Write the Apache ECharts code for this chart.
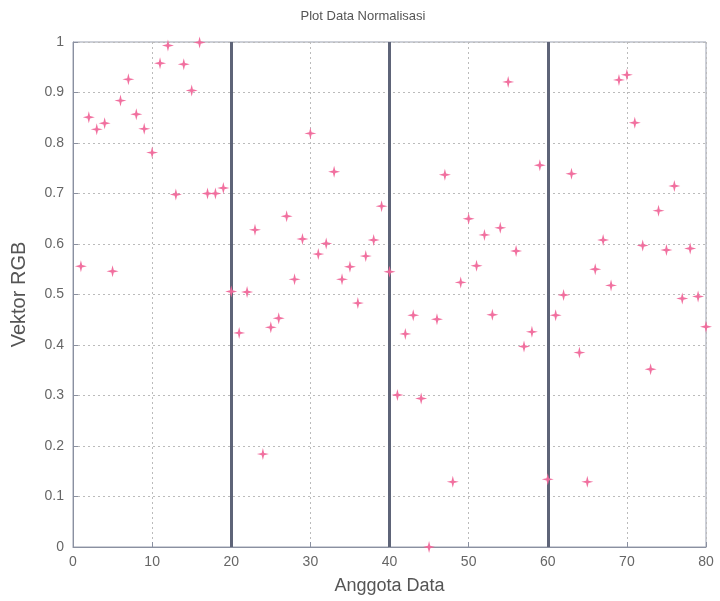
<!DOCTYPE html>
<html><head><meta charset="utf-8">
<script src="https://cdn.jsdelivr.net/npm/echarts@6/dist/echarts.min.js"></script>
<style>html,body{margin:0;padding:0;background:#fff}#c{width:720px;height:601px}</style>
</head><body><div id="c"></div>
<script>
const titleText = "Plot Data Normalisasi";
const xLabel = "Anggota Data";
const yLabel = "Vektor RGB";
const members = [];
for (let i = 1; i <= 80; i++) members.push(i);
const values = [
 0.556,0.851,0.827,0.839,0.546,0.884,0.926,0.857,0.828,0.781,
 0.958,0.993,0.698,0.956,0.904,0.999,0.700,0.700,0.711,0.506,
 0.424,0.505,0.628,0.184,0.435,0.453,0.655,0.530,0.610,0.819,
 0.580,0.601,0.743,0.530,0.555,0.483,0.576,0.608,0.675,0.545,
 0.301,0.422,0.459,0.294,0.000,0.451,0.737,0.129,0.524,0.650,
 0.557,0.618,0.460,0.632,0.921,0.586,0.397,0.426,0.756,0.134,
 0.459,0.499,0.739,0.385,0.129,0.550,0.608,0.518,0.925,0.935,
 0.840,0.597,0.352,0.666,0.588,0.715,0.492,0.591,0.496,0.436
];
const separators = [20, 40, 60];

const chart = echarts.init(document.getElementById('c'), null, {renderer:'canvas'});
const font = 'Liberation Sans';
const star = 'path://M0,-10 L2,-2 L10,0 L2,2 L0,10 L-2,2 L-10,0 L-2,-2 Z';
chart.setOption({
  animation: false,
  backgroundColor: '#fff',
  title: {text: titleText, left: 358, top: 5, textAlign: 'center',
    textStyle: {fontFamily: font, fontSize: 13, fontWeight: 'normal', color: '#555'}},
  grid: {left: 73, right: 14, top: 42, bottom: 54, show: true, borderColor: '#9aa0b0', borderWidth: 1},
  xAxis: {type: 'value', min: 0, max: 80, interval: 10,
    name: xLabel, nameLocation: 'middle', nameGap: 30,
    nameTextStyle: {fontFamily: font, fontSize: 18, color: '#555'},
    axisLine: {show: true, lineStyle: {color: '#8a90a0'}},
    axisTick: {show: true, inside: true, length: 5, lineStyle: {color: '#8a90a0'}},
    axisLabel: {fontFamily: font, fontSize: 14, color: '#666', margin: 8},
    splitLine: {show: true, lineStyle: {color: '#bbb', type: [2, 3], width: 1}}},
  yAxis: {type: 'value', min: 0, max: 1, interval: 0.1,
    name: yLabel, nameLocation: 'middle', nameGap: 44, nameRotate: 90,
    nameTextStyle: {fontFamily: font, fontSize: 20, color: '#555'},
    axisLine: {show: true, lineStyle: {color: '#8a90a0'}},
    axisTick: {show: true, inside: true, length: 5, lineStyle: {color: '#8a90a0'}},
    axisLabel: {fontFamily: font, fontSize: 14, color: '#666', margin: 9,
      formatter: v => (Math.round(v*10)/10).toString()},
    splitLine: {show: true, lineStyle: {color: '#bbb', type: [2, 3], width: 1}}},
  series: [{
    type: 'scatter', clip: false,
    data: members.map((m, i) => [m, values[i]]),
    symbol: star, symbolSize: 12,
    itemStyle: {color: '#f0689a', opacity: 0.95},
    markLine: {silent: true, symbol: 'none', label: {show: false},
      lineStyle: {color: '#5e6478', width: 3, type: 'solid'},
      data: separators.map(s => ({xAxis: s}))},
    z: 5
  }]
});
</script></body></html>
